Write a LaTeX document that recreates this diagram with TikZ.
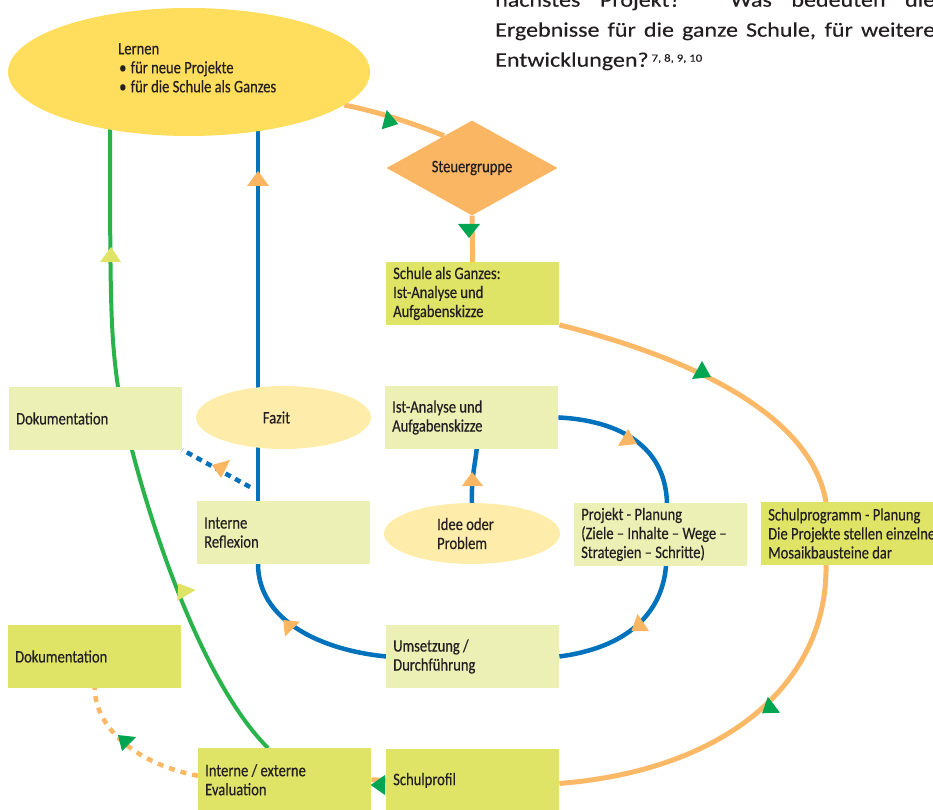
\documentclass[tikz,border=0pt]{standalone}
\usepackage{fontspec}
\setmainfont{Carlito}
\newfontfamily\boxfont[FakeStretch=0.832, BoldFont=Carlito, BoldFeatures={FakeBold=0.35}]{Carlito}
\newfontfamily\parafont[FakeStretch=1.16, BoldFont=Carlito, BoldFeatures={FakeBold=0.3}]{Carlito}
\usetikzlibrary{shapes.geometric,backgrounds}
\definecolor{lernY}{HTML}{FFDD5D}
\definecolor{paleY}{HTML}{FEEDAA}
\definecolor{paleG}{HTML}{ECF0B5}
\definecolor{ygr}{HTML}{DFE466}
\definecolor{oraF}{HTML}{FAB663}
\definecolor{oraL}{HTML}{FBB968}
\definecolor{blu}{HTML}{0072BC}
\definecolor{grL}{HTML}{2AB34B}
\definecolor{grT}{HTML}{00A551}
\definecolor{txt}{HTML}{231F20}
\begin{document}
\begin{tikzpicture}[x=1pt,y=-1pt,
  every node/.style={text=txt},
  boxtxt/.style={font=\boxfont\bfseries\fontsize{17.5}{19}\selectfont},
  paratxt/.style={font=\parafont\bfseries\fontsize{20.7}{30}\selectfont},
  bx/.style={rectangle, anchor=north west, inner xsep=7pt, inner ysep=0pt, text width=159pt, minimum height=62.5pt, align=flush left, boxtxt},
  pbox/.style={bx, fill=paleG},
  ybox/.style={bx, fill=ygr},
  oval/.style={ellipse, inner sep=0pt, boxtxt, align=left},
  oline/.style={draw=oraL, line width=5pt},
  gline/.style={draw=grL, line width=4pt},
  bline/.style={draw=blu, line width=4.5pt},
  bdots/.style={bline, dash pattern=on 6pt off 5pt},
  odots/.style={oline, line width=4.5pt, dash pattern=on 6pt off 6pt},
  gtri/.style={fill=grT},
  ytri/.style={fill=ygr},
  otri/.style={fill=oraF}
]
\useasboundingbox (0,0) rectangle (933,810);

% top paragraph
\node[anchor=base west, inner sep=0pt, paratxt] (p1) at (495,6.7) {\makebox[440pt][s]{nächstes Projekt? Was bedeuten die}};
\node[anchor=base west, inner sep=0pt, paratxt] (p2) at (495,36.7) {\makebox[440pt][s]{Ergebnisse für die ganze Schule, für weitere}};
\node[anchor=base west, inner sep=0pt, paratxt] (p3) at (495,66.7) {Entwicklungen?\hspace{3pt}\raisebox{5pt}{\fontsize{11}{11}\selectfont 7, 8, 9, 10}};

% nodes
\node[oval, fill=lernY, minimum width=362pt, minimum height=128pt] (lernen) at (189,72) {};
\node[anchor=west, inner sep=0pt, align=left, boxtxt] (lerntext) at (118,69.5) {\strut Lernen\\ \hspace*{1pt}\makebox[11.5pt][l]{\textbullet}für neue Projekte\\ \hspace*{1pt}\makebox[11.5pt][l]{\textbullet}für die Schule als Ganzes\strut};
\node[diamond, fill=oraF, minimum width=171pt, minimum height=61pt, inner sep=0pt, boxtxt] (steuer) at (472,168) {Steuergruppe};
\node[ybox] (schule) at (386,262) {Schule als Ganzes:\\Ist-Analyse und\\Aufgabenskizze};
\node[pbox] (doc1) at (9,387) {Dokumentation};
\node[oval, fill=paleY, minimum width=175pt, minimum height=63pt] (fazit) at (283.5,417.5) {\hspace*{-14pt}Fazit};
\node[pbox] (ist) at (385,386) {Ist-Analyse und\\Aufgabenskizze};
\node[pbox] (reflex) at (197,501) {Interne\\Reflexion};
\node[oval, fill=paleY, minimum width=176pt, minimum height=61pt] (idee) at (472,533.5) {\hspace*{-13pt}Idee oder\\\hspace*{-13pt}Problem};
\node[pbox] (projekt) at (574,503) {Projekt - Planung\\(Ziele – Inhalte – Wege –\\Strategien – Schritte)};
\node[ybox, text width=200pt] (schulprog) at (761,502) {Schulprogramm - Planung\\Die Projekte stellen einzelne\\Mosaikbausteine dar};
\node[ybox] (doc2) at (8,625) {Dokumentation};
\node[pbox] (umsetz) at (386,625) {Umsetzung /\\Durchführung};
\node[ybox, minimum height=63pt] (eval) at (198,748) {Interne / externe\\Evaluation};
\node[ybox] (schulprofil) at (386,749) {Schulprofil};

% connectors
\begin{scope}[on background layer]
\draw[oline] (lernen.-12) .. controls (385,113) and (425,128) .. (steuer.131);
\draw[oline] (steuer.south) -- (schule.north);
\draw[oline] (schule.south east) .. controls (680,355) and (810,410) .. ([xshift=65pt]schulprog.north west);
\draw[oline] ([xshift=65pt]schulprog.south west) .. controls (828,680) and (730,770) .. ([yshift=-3pt]schulprofil.east);
\draw[oline] (schulprofil.west) -- (eval.east);
\draw[odots] ([yshift=4pt]eval.west) .. controls (140,765) and (95,730) .. (doc2.south);
\draw[gline] ([xshift=70pt]eval.north west) .. controls (200,680) and (150,520) .. ([xshift=123pt]doc1.south west) -- ([xshift=109pt]doc1.north west) .. controls (110,330) and (110,300) .. ([xshift=-79pt]lernen.center);
\draw[bline] ([xshift=69pt]lernen.center) -- ([xshift=61pt]reflex.north west);
\draw[bdots] ([xshift=53pt,yshift=14pt]reflex.north west) -- (doc1.south east);
\draw[bline] ([xshift=61pt]reflex.south west) .. controls (258,620) and (320,650) .. (umsetz.west);
\draw[bline] (umsetz.east) .. controls (625,648) and (662,615) .. ([xshift=92pt]projekt.south west);
\draw[bline] ([xshift=93pt]projekt.north west) .. controls (665,440) and (610,420) .. (ist.east);
\draw[bline] (idee.north) .. controls (471,480) and (475,465) .. ([xshift=5pt]ist.south);
\end{scope}

% arrow triangles
\fill[gtri] (386.7,110) -- (381.7,129.3) -- (398.3,124) -- cycle;
\fill[gtri] (458,224) -- (480,224) -- (469,238) -- cycle;
\fill[gtri] (702,361) -- (692,379) -- (711,377) -- cycle;
\fill[gtri] (767.8,696.7) -- (762.1,713.3) -- (780,712.7) -- cycle;
\fill[gtri] (118,735) -- (136,737) -- (122,751) -- cycle;
\fill[gtri] (370.7,785) -- (385,775) -- (385,795) -- cycle;
\fill[ytri] (100,262) -- (121,262) -- (111,247) -- cycle;
\fill[ytri] (178.3,583.3) -- (195.7,590) -- (177.3,600.7) -- cycle;
\fill[otri] (247,186) -- (269,186) -- (258,171) -- cycle;
\fill[otri] (212,465) -- (230,460) -- (221,478) -- cycle;
\fill[otri] (283.3,620) -- (300,621.7) -- (285,636.7) -- cycle;
\fill[otri] (472,472) -- (462,486) -- (483,486) -- cycle;
\fill[otri] (628,429) -- (618,446) -- (637,444) -- cycle;
\fill[otri] (637.5,614) -- (631.4,631) -- (649,631) -- cycle;
\end{tikzpicture}
\end{document}
